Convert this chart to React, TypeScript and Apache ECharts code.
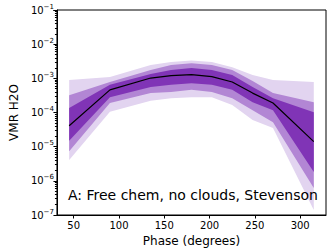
import React, { useEffect, useRef } from "react";
import * as echarts from "echarts";

const phase = [45, 90, 135, 157.5, 180, 202.5, 225, 247.5, 270, 315];
const median = [4.1e-5, 4.6e-4, 1.02e-3, 1.2e-3, 1.29e-3, 1.12e-3, 7.8e-4, 3.7e-4, 1.9e-4, 1.4e-5];
const upper3 = [8.9e-4, 1.1e-3, 2.45e-3, 3.0e-3, 3.3e-3, 3.0e-3, 2.1e-3, 1.26e-3, 8.9e-4, 7.8e-4];
const upper2 = [3.2e-4, 7.8e-4, 1.74e-3, 2.45e-3, 2.75e-3, 2.45e-3, 1.74e-3, 8.3e-4, 3.7e-4, 2.0e-4];
const upper1 = [1.35e-4, 6.5e-4, 1.35e-3, 1.74e-3, 2.0e-3, 1.74e-3, 1.26e-3, 5.6e-4, 2.6e-4, 1.02e-4];
const lower1 = [1.48e-5, 2.8e-4, 5.6e-4, 6.5e-4, 7.2e-4, 6.5e-4, 4.6e-4, 2.0e-4, 1.17e-4, 1.8e-6];
const lower2 = [7.4e-6, 1.9e-4, 3.7e-4, 4.0e-4, 4.6e-4, 4.0e-4, 2.6e-4, 1.17e-4, 5.2e-5, 6.2e-7];
const lower3 = [4.1e-6, 1.05e-4, 2.2e-4, 2.6e-4, 2.8e-4, 2.8e-4, 1.66e-4, 6.0e-5, 3.5e-5, 1.4e-7];

const xTicks = [50, 100, 150, 200, 250, 300];
const annotation = "A: Free chem, no clouds, Stevenson";

const FONT = "DejaVu Sans";

function band(upper: number[], lower: number[], color: string, z: number) {
  return {
    type: "custom",
    z,
    silent: true,
    clip: true,
    data: [[phase[0], upper[0]]],
    renderItem: (_params: any, api: any) => {
      const pts: number[][] = [];
      for (let i = 0; i < phase.length; i++) pts.push(api.coord([phase[i], upper[i]]));
      for (let i = phase.length - 1; i >= 0; i--) pts.push(api.coord([phase[i], lower[i]]));
      return { type: "polygon", shape: { points: pts }, style: { fill: color } };
    },
  };
}

export default function App() {
  const ref = useRef<HTMLDivElement>(null);
  useEffect(() => {
    const chart = echarts.init(ref.current!, null, { renderer: "svg" });
    chart.setOption({
      animation: false,
      grid: { left: 51, right: 6, top: 10, bottom: 37, show: true, borderColor: "#000", borderWidth: 1, backgroundColor: "transparent" },
      xAxis: {
        type: "value",
        min: 31.5,
        max: 328.5,
        name: "Phase (degrees)",
        nameLocation: "middle",
        nameGap: 20,
        nameTextStyle: { fontFamily: FONT, fontSize: 12, color: "#000" },
        axisLine: { lineStyle: { color: "#000", width: 1 } },
        axisTick: { show: true, length: 3.5, lineStyle: { color: "#000" }, customValues: xTicks },
        axisLabel: { fontFamily: FONT, fontSize: 10, color: "#000", margin: 5, customValues: xTicks },
        splitLine: { show: false },
      },
      yAxis: {
        type: "log",
        logBase: 10,
        min: 1e-7,
        max: 1e-1,
        name: "VMR H2O",
        nameLocation: "middle",
        nameGap: 36,
        nameTextStyle: { fontFamily: FONT, fontSize: 12, color: "#000" },
        axisLine: { show: true, lineStyle: { color: "#000", width: 1 } },
        axisTick: { show: true, length: 3.5, lineStyle: { color: "#000" } },
        minorTick: { show: true, splitNumber: 9, length: 2, lineStyle: { color: "#000" } },
        axisLabel: {
          margin: 3,
          formatter: (v: number) => {
            const e = Math.round(Math.log10(v));
            return "{b|10}{s|\u2212" + Math.abs(e) + "}";
          },
          rich: {
            b: { fontFamily: FONT, fontSize: 10, color: "#000" },
            s: { fontFamily: FONT, fontSize: 7, color: "#000", padding: [0, 0, 7, 0] },
          },
        },
        splitLine: { show: false },
      },
      graphic: [
        {
          type: "text",
          left: 68,
          top: 188,
          style: { text: annotation, font: `14px ${FONT}`, fill: "#000" },
          z: 100,
        },
      ],
      series: [
        band(upper3, lower3, "#e2d4f0", 1),
        band(upper2, lower2, "#b286d4", 2),
        band(upper1, lower1, "#8034b6", 3),
        {
          type: "line",
          z: 5,
          data: phase.map((p, i) => [p, median[i]]),
          symbol: "none",
          lineStyle: { color: "#000", width: 1.2 },
          silent: true,
        },
      ],
    });
    return () => chart.dispose();
  }, []);
  return <div ref={ref} style={{ width: 332, height: 252, position: "absolute", left: 0, top: 0 }} />;
}
